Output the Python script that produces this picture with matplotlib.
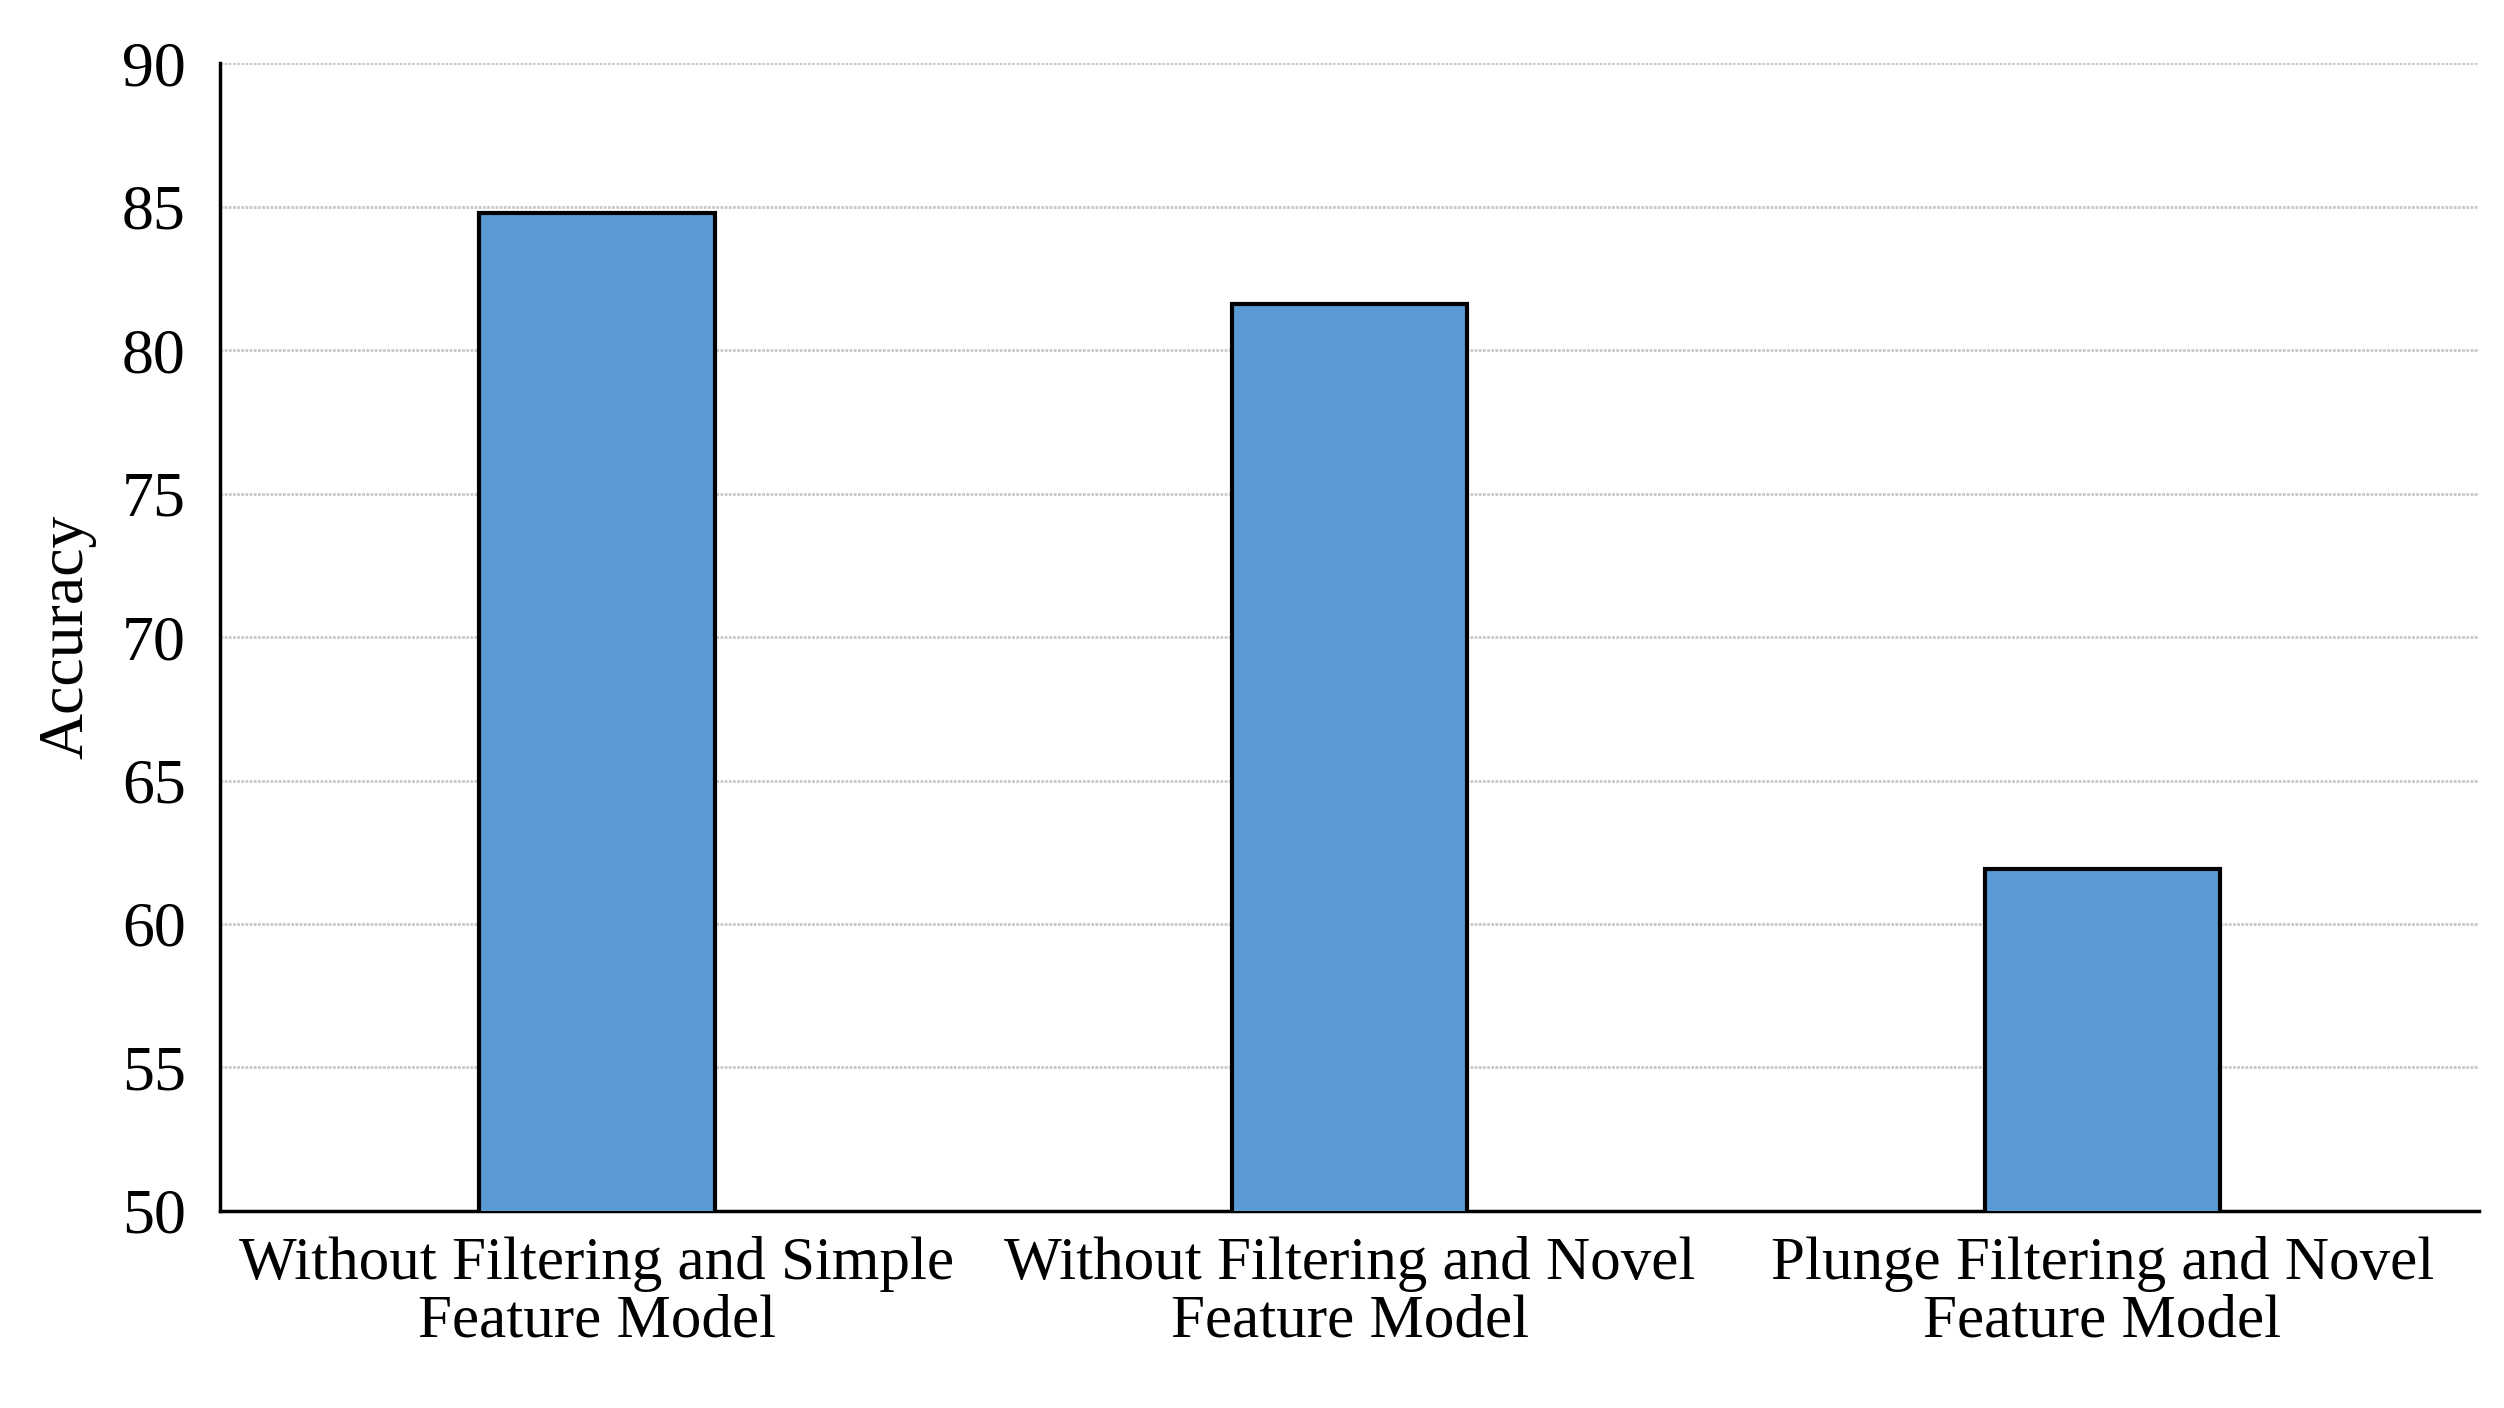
import matplotlib.pyplot as plt

categories = ["Without Filtering and Simple\nFeature Model",
              "Without Filtering and Novel\nFeature Model",
              "Plunge Filtering and Novel\nFeature Model"]
accuracy = [84.8, 81.6, 61.9]
yticks = [50, 55, 60, 65, 70, 75, 80, 85, 90]

plt.rcParams['font.family'] = ['Liberation Serif', 'DejaVu Serif']

fig = plt.figure(figsize=(25.04, 14.08), dpi=100)
ax = fig.add_axes([0.088, 0.14, 0.902, 0.815])

ax.bar(range(len(categories)), accuracy, width=0.313, color="#5b9bd5",
       edgecolor="black", linewidth=3, zorder=3)

ax.set_xlim(-0.5, 2.5)
ax.set_ylim(50, 90)
ax.set_yticks(yticks)
ax.set_xticks(range(len(categories)))
ax.set_xticklabels(categories, fontsize=44, linespacing=1.05)
ax.tick_params(axis="y", labelsize=46, length=0, pad=25)
ax.tick_params(axis="x", length=0, pad=18)
ax.set_ylabel("Accuracy", fontsize=46, labelpad=18)

ax.grid(axis="y", color="#c8c8c8", linewidth=2, linestyle=(0, (1, 0.5)), zorder=0)
for s in ["top", "right"]:
    ax.spines[s].set_visible(False)
ax.spines["left"].set_linewidth(2.5)
ax.spines["bottom"].set_linewidth(2.5)

fig.savefig("out.png")
